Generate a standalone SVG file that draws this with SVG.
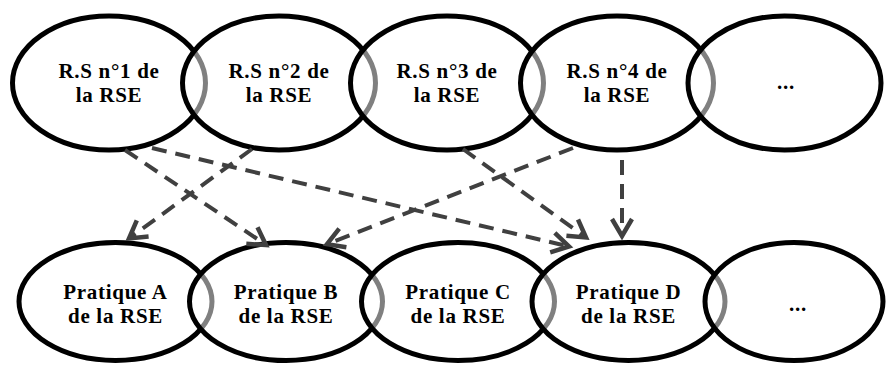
<svg xmlns="http://www.w3.org/2000/svg" width="886" height="365" viewBox="0 0 886 365">
<defs>
<style>
.e{fill:#fff;fill-opacity:0.5;stroke:#000;stroke-width:5}
.t{font-weight:bold;font-size:21px;letter-spacing:0.7px;fill:#000;text-anchor:middle}
.c{fill:none;stroke:#404040;stroke-width:4;stroke-dasharray:15 9}
.h{fill:none;stroke:#404040;stroke-width:4.5;stroke-linejoin:miter;stroke-miterlimit:3}
</style>
</defs>
<rect width="886" height="365" fill="#fff"/>
<g font-family="Liberation Serif, DejaVu Serif, serif">
<g id="r1"><ellipse class="e" cx="109" cy="83" rx="96.5" ry="67"/><text class="t" x="109" y="78">R.S n°1 de</text><text class="t" x="109" y="101.5">la RSE</text></g>
<g id="r2"><ellipse class="e" cx="279" cy="83" rx="96.5" ry="67"/><text class="t" x="279" y="78">R.S n°2 de</text><text class="t" x="279" y="101.5">la RSE</text></g>
<g id="r3"><ellipse class="e" cx="447" cy="83" rx="96.5" ry="67"/><text class="t" x="447" y="78">R.S n°3 de</text><text class="t" x="447" y="101.5">la RSE</text></g>
<g id="r4"><ellipse class="e" cx="617" cy="83" rx="96.5" ry="67"/><text class="t" x="617" y="78">R.S n°4 de</text><text class="t" x="617" y="101.5">la RSE</text></g>
<g id="r5"><ellipse class="e" cx="784.5" cy="83" rx="96.5" ry="67"/><text class="t" x="786" y="89">...</text></g>
<g id="pA"><ellipse class="e" cx="115.5" cy="301.5" rx="96.5" ry="59"/><text class="t" x="115.5" y="299">Pratique A</text><text class="t" x="115.5" y="323">de la RSE</text></g>
<g id="pB"><ellipse class="e" cx="286" cy="301.5" rx="96.5" ry="59"/><text class="t" x="286" y="299">Pratique B</text><text class="t" x="286" y="323">de la RSE</text></g>
<g id="pC"><ellipse class="e" cx="458" cy="301.5" rx="96.5" ry="59"/><text class="t" x="458" y="299">Pratique C</text><text class="t" x="458" y="323">de la RSE</text></g>
<g id="pD"><ellipse class="e" cx="628.5" cy="301.5" rx="96.5" ry="59"/><text class="t" x="628.5" y="299">Pratique D</text><text class="t" x="628.5" y="323">de la RSE</text></g>
<g id="p5"><ellipse class="e" cx="794" cy="301.5" rx="89" ry="59"/><text class="t" x="798" y="311">...</text></g>
</g>
<g id="connectors">
<line class="c" x1="125" y1="150" x2="264" y2="243.5"/>
<polyline class="h" points="246.3,243.8 266,245 257.5,227.2"/>
<line class="c" x1="152" y1="148" x2="567" y2="246"/>
<polyline class="h" points="550.2,252.3 569,246.5 554.8,232.9"/>
<line class="c" x1="252" y1="149" x2="131" y2="237"/>
<polyline class="h" points="136.8,220.4 129,238.5 148.6,236.6"/>
<line class="c" x1="463" y1="149" x2="584" y2="236"/>
<polyline class="h" points="566.4,235.7 586,237.5 578,219.5"/>
<line class="c" x1="573" y1="148" x2="329" y2="243.4"/>
<polyline class="h" points="339.2,228.7 327,244.2 346.4,247.3"/>
<line class="c" x1="622" y1="160" x2="622" y2="234"/>
<polyline class="h" points="612,219 622,236 632,219"/>
</g>
</svg>
